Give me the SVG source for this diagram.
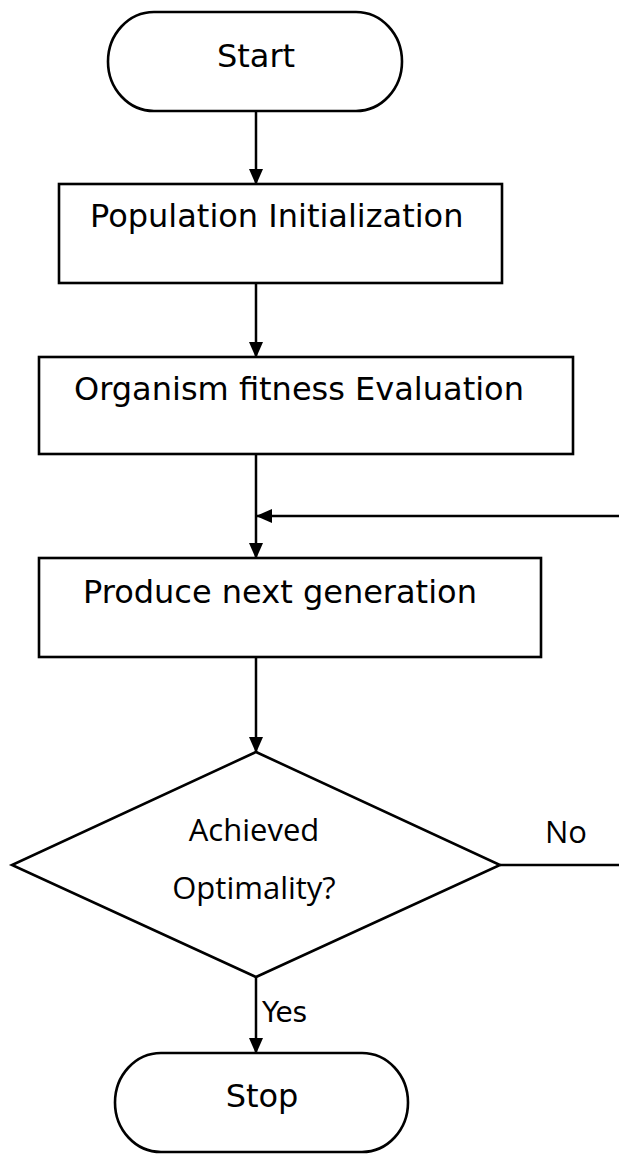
<svg xmlns="http://www.w3.org/2000/svg" width="619" height="1154" viewBox="0 0 619 1154">
  <defs>
    <style>
      .shape { fill: #ffffff; stroke: #000000; stroke-width: 2.6; }
      .conn { fill: none; stroke: #000000; stroke-width: 2.5; }
      .lbl { font-family: "DejaVu Sans", Verdana, sans-serif; font-size: 32px; fill: #000000; }
      .dlbl { font-family: "Open Sans", "Noto Sans", sans-serif; font-size: 31px; fill: #000000; text-anchor: middle; }
      .small { font-family: "DejaVu Sans", Verdana, sans-serif; font-size: 28px; fill: #000000; }
    </style>
    <marker id="arrow" viewBox="0 0 16 14" refX="15" refY="7" markerWidth="16" markerHeight="14" markerUnits="userSpaceOnUse" orient="auto">
      <path d="M0,0 L16,7 L0,14 Z" fill="#000000"/>
    </marker>
  </defs>
  <rect width="619" height="1154" fill="#ffffff"/>

  <g id="connectors">
    <line class="conn" x1="256" y1="111" x2="256" y2="184" marker-end="url(#arrow)"/>
    <line class="conn" x1="256" y1="283" x2="256" y2="357" marker-end="url(#arrow)"/>
    <line class="conn" x1="256" y1="454" x2="256" y2="558" marker-end="url(#arrow)"/>
    <line class="conn" x1="619" y1="516" x2="257" y2="516" marker-end="url(#arrow)"/>
    <line class="conn" x1="256" y1="657" x2="256" y2="752" marker-end="url(#arrow)"/>
    <line class="conn" x1="500" y1="865" x2="619" y2="865"/>
    <line class="conn" x1="256" y1="977" x2="256" y2="1053" marker-end="url(#arrow)"/>
    <text class="dlbl" x="566" y="843">No</text>
    <text class="small" x="262" y="1022">Yes</text>
  </g>

  <g id="start">
    <rect class="shape" x="108" y="12" width="294" height="99" rx="46" ry="49.5"/>
    <text class="lbl" x="256" y="67" text-anchor="middle">Start</text>
  </g>

  <g id="population">
    <rect class="shape" x="59" y="184" width="443" height="99"/>
    <text class="lbl" x="90" y="227">Population Initialization</text>
  </g>

  <g id="organism">
    <rect class="shape" x="39" y="357" width="534" height="97"/>
    <text class="lbl" x="74" y="400">Organism fitness Evaluation</text>
  </g>

  <g id="produce">
    <rect class="shape" x="39" y="558" width="502" height="99"/>
    <text class="lbl" x="83" y="603">Produce next generation</text>
  </g>

  <g id="decision">
    <polygon class="shape" points="256,752 500,865 256,977 12,865"/>
    <text class="dlbl" x="254" y="841">Achieved</text>
    <text class="dlbl" x="254" y="899">Optimality?</text>
  </g>

  <g id="stop">
    <rect class="shape" x="115" y="1053" width="293" height="99" rx="46" ry="49.5"/>
    <text class="lbl" x="262" y="1107" text-anchor="middle">Stop</text>
  </g>
</svg>
